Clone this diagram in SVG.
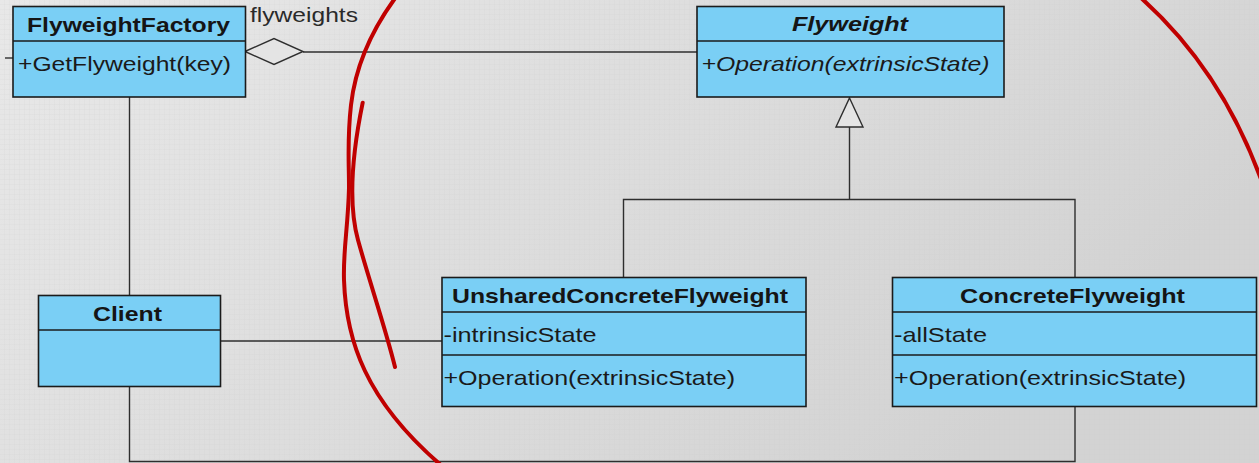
<svg xmlns="http://www.w3.org/2000/svg" width="1259" height="463" viewBox="0 0 1259 463">
  <defs>
    <linearGradient id="bg" x1="0" y1="0" x2="1" y2="0.4">
      <stop offset="0" stop-color="#e8e8e8"/>
      <stop offset="1" stop-color="#d3d3d3"/>
    </linearGradient>
    <pattern id="grid" width="5" height="5" patternUnits="userSpaceOnUse">
      <path d="M5 0V5H0" fill="none" stroke="#c8c8c8" stroke-width="0.6" opacity="0.45"/>
    </pattern>
    <style>
      .box { fill: #7acff5; stroke: #1b1b1b; stroke-width: 1.6; }
      .sep { stroke: #1b1b1b; stroke-width: 1.6; }
      .title { font-family: "Liberation Sans", Arial, sans-serif; font-size: 21px; font-weight: bold; fill: #151515; }
      .member { font-family: "Liberation Sans", Arial, sans-serif; font-size: 21px; fill: #1a1a1a; }
      .italic { font-style: italic; }
      .label { font-family: "Liberation Sans", Arial, sans-serif; font-size: 21px; fill: #2a2a2a; }
      .wire { fill: none; stroke: #2e2e2e; stroke-width: 1.4; }
      .ink { fill: none; stroke: #c00000; stroke-width: 4; stroke-linecap: round; }
    </style>
  </defs>

  <!-- canvas -->
  <rect width="1259" height="463" fill="url(#bg)"/>
  <rect width="1259" height="463" fill="url(#grid)"/>

  <!-- connectors -->
  <g id="connectors">
    <!-- stub on the left of the factory -->
    <path class="wire" d="M5 58H13"/>
    <!-- aggregation: factory to flyweight -->
    <path class="wire" d="M303 52H697"/>
    <polygon points="245,51.5 274,38.5 303,51.5 274,64.5" fill="#e4e4e4" stroke="#2e2e2e" stroke-width="1.4"/>
    <text class="label" x="250" y="22" textLength="108" lengthAdjust="spacingAndGlyphs">flyweights</text>
    <!-- factory to client -->
    <path class="wire" d="M129.5 97V295"/>
    <!-- client to unshared flyweight -->
    <path class="wire" d="M221 341H442"/>
    <!-- client to concrete flyweight -->
    <path class="wire" d="M129.5 387V461.5H1075V407"/>
    <!-- generalization -->
    <path class="wire" d="M849.5 127V199.5M623.5 277V199.5H1075V277"/>
    <polygon points="849.5,98 863,127 836,127" fill="#e4e4e4" stroke="#2e2e2e" stroke-width="1.4"/>
  </g>

  <!-- FlyweightFactory -->
  <g id="flyweight-factory">
    <rect class="box" x="13" y="6.5" width="232.5" height="90.5"/>
    <line class="sep" x1="13" y1="41" x2="245.5" y2="41"/>
    <text class="title" x="27" y="32" textLength="203" lengthAdjust="spacingAndGlyphs">FlyweightFactory</text>
    <text class="member" x="18" y="71" textLength="213" lengthAdjust="spacingAndGlyphs">+GetFlyweight(key)</text>
  </g>

  <!-- Flyweight (abstract) -->
  <g id="flyweight">
    <rect class="box" x="697" y="6.5" width="307" height="90.5"/>
    <line class="sep" x1="697" y1="41" x2="1004" y2="41"/>
    <text class="title italic" x="792" y="31" textLength="116" lengthAdjust="spacingAndGlyphs">Flyweight</text>
    <text class="member italic" x="701.5" y="71" textLength="288" lengthAdjust="spacingAndGlyphs">+Operation(extrinsicState)</text>
  </g>

  <!-- Client -->
  <g id="client">
    <rect class="box" x="38.5" y="295.5" width="182" height="91"/>
    <line class="sep" x1="38.5" y1="330" x2="220.5" y2="330"/>
    <text class="title" x="93" y="320.5" textLength="69" lengthAdjust="spacingAndGlyphs">Client</text>
  </g>

  <!-- UnsharedConcreteFlyweight -->
  <g id="unshared-concrete-flyweight">
    <rect class="box" x="442" y="277.5" width="364" height="129"/>
    <line class="sep" x1="442" y1="312" x2="806" y2="312"/>
    <line class="sep" x1="442" y1="355" x2="806" y2="355"/>
    <text class="title" x="452" y="302.5" textLength="336" lengthAdjust="spacingAndGlyphs">UnsharedConcreteFlyweight</text>
    <text class="member" x="443.5" y="341.5" textLength="153" lengthAdjust="spacingAndGlyphs">-intrinsicState</text>
    <text class="member" x="443.5" y="385" textLength="291.5" lengthAdjust="spacingAndGlyphs">+Operation(extrinsicState)</text>
  </g>

  <!-- ConcreteFlyweight -->
  <g id="concrete-flyweight">
    <rect class="box" x="892.5" y="277.5" width="364" height="129"/>
    <line class="sep" x1="892.5" y1="312" x2="1256.5" y2="312"/>
    <line class="sep" x1="892.5" y1="355" x2="1256.5" y2="355"/>
    <text class="title" x="960" y="303" textLength="225" lengthAdjust="spacingAndGlyphs">ConcreteFlyweight</text>
    <text class="member" x="894" y="341.5" textLength="93" lengthAdjust="spacingAndGlyphs">-allState</text>
    <text class="member" x="894" y="385" textLength="292" lengthAdjust="spacingAndGlyphs">+Operation(extrinsicState)</text>
  </g>

  <!-- hand-drawn red annotation strokes -->
  <g id="annotation">
    <path class="ink" d="M396 -3C368 35 355 70 351 105C347 140 349 160 349 188C348 228 343 250 344 280C346 340 365 400 442 466"/>
    <path class="ink" d="M362.7 102.7C353 150 347 200 358 240S386 330 395 367"/>
    <path class="ink" d="M1140 -3Q1222 70 1262 182"/>
  </g>
</svg>
